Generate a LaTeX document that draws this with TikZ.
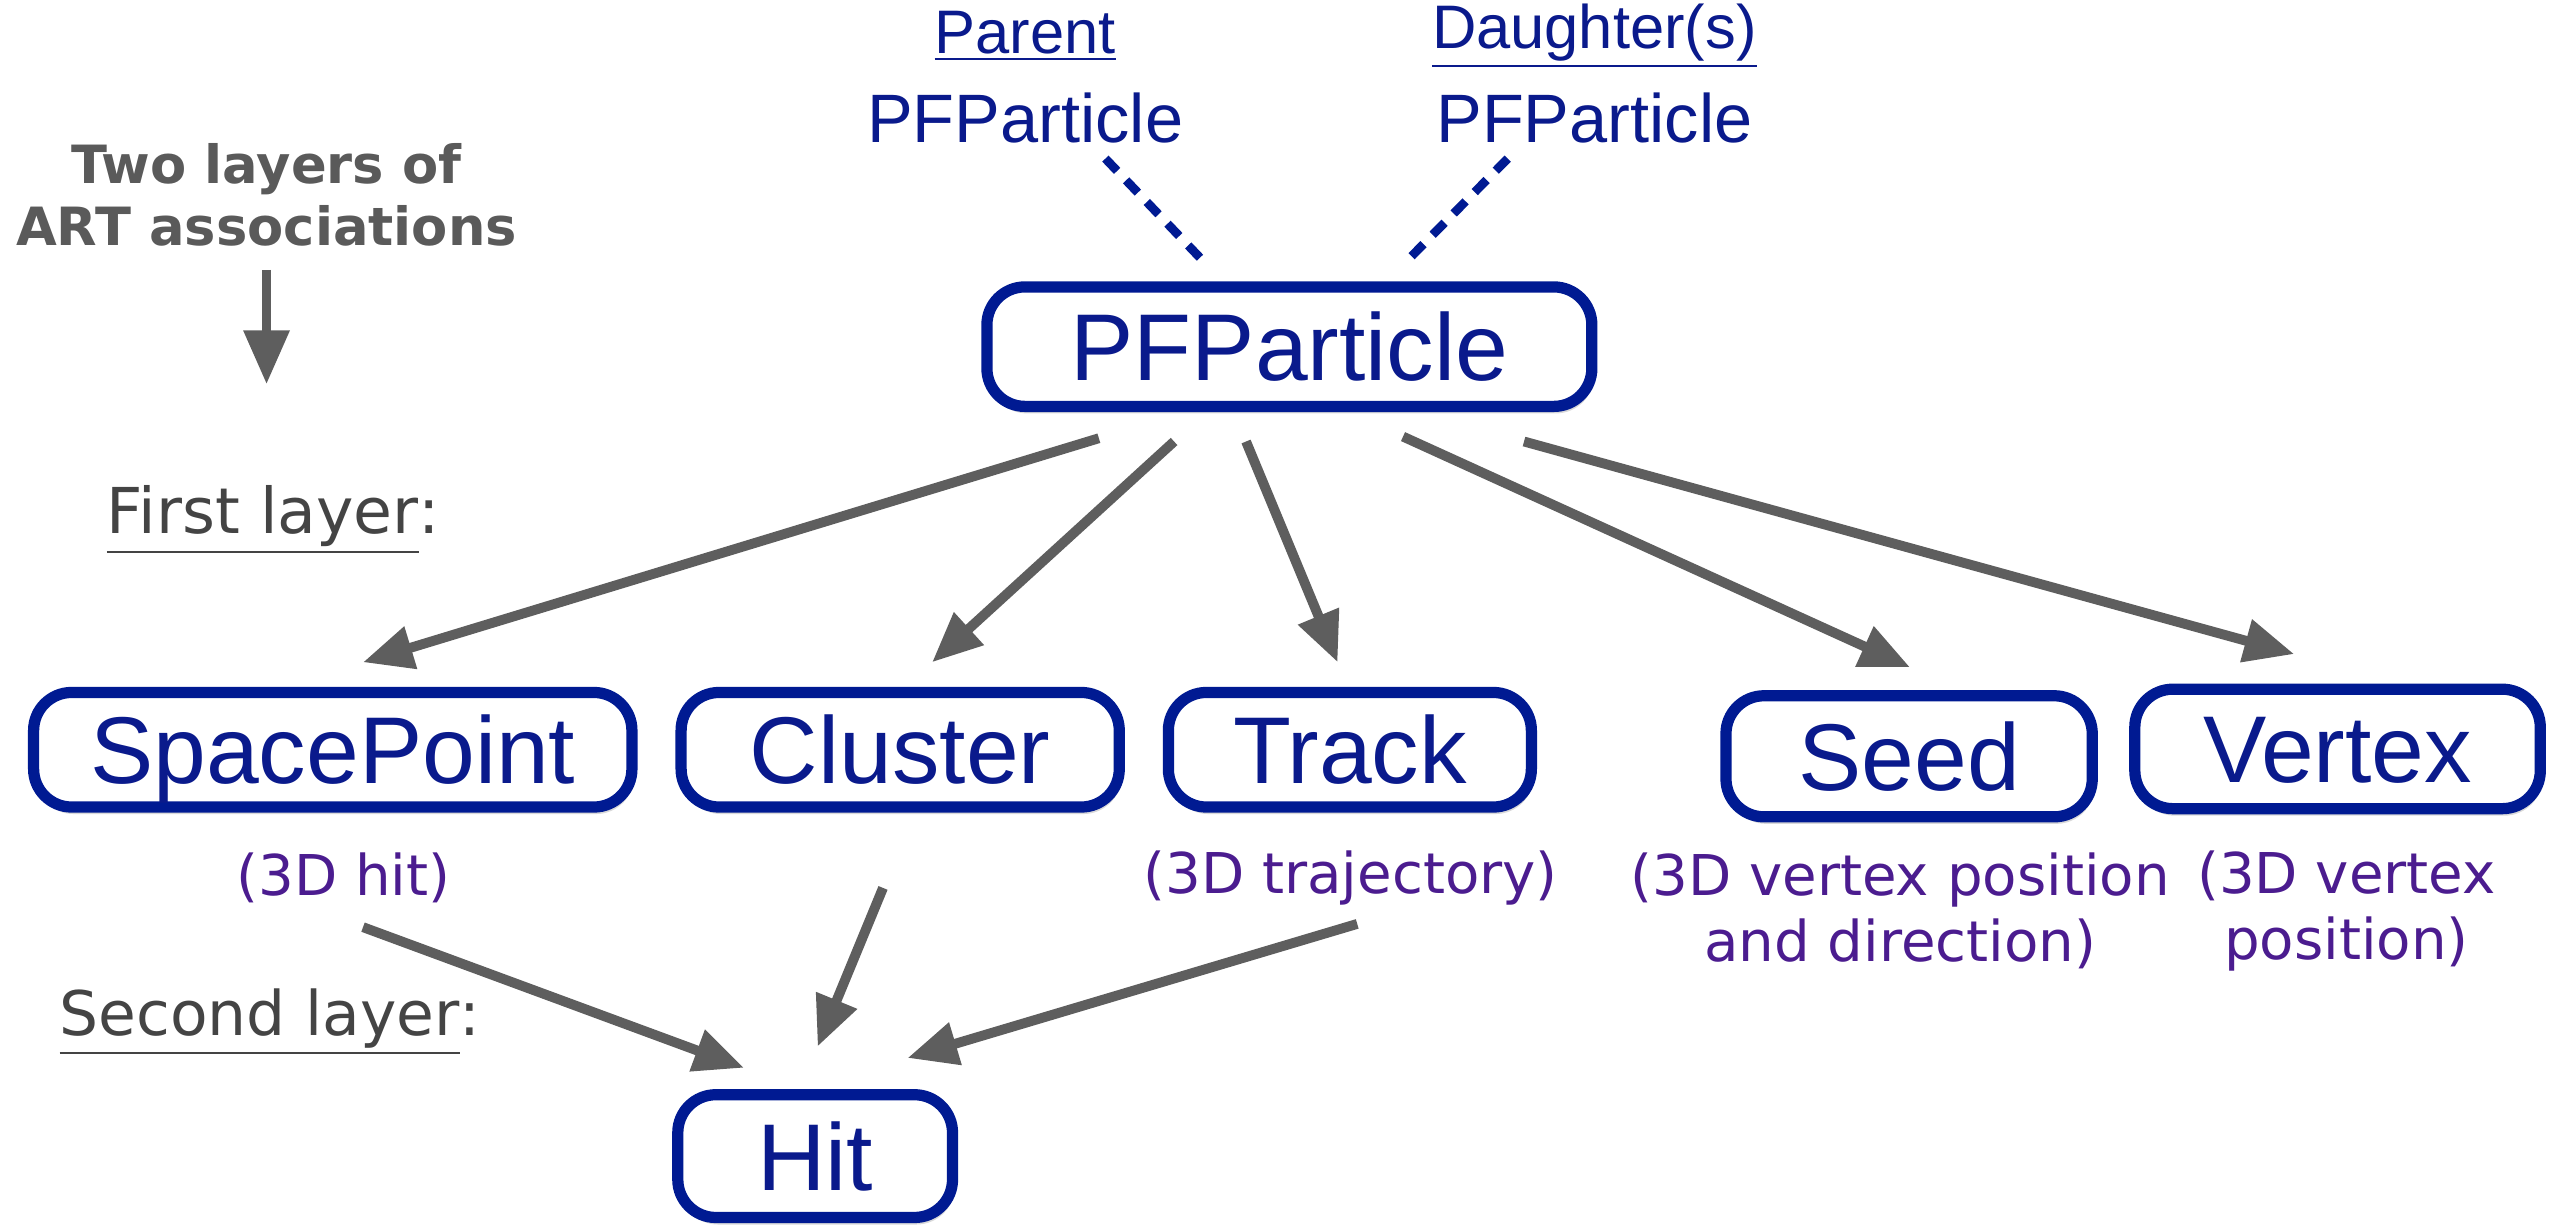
\documentclass[tikz,border=0pt]{standalone}
\usepackage{fontspec}
\setmainfont{Liberation Sans}
\newfontfamily\vfont{DejaVu Sans}
\usetikzlibrary{arrows.meta,shadows}
\definecolor{bblue}{RGB}{0,26,146}
\definecolor{tblue}{RGB}{10,26,140}
\definecolor{purp}{RGB}{75,28,143}
\definecolor{agray}{RGB}{94,94,94}
\definecolor{lgray}{RGB}{68,68,68}
\definecolor{hgray}{RGB}{90,90,90}
\begin{document}
\begin{tikzpicture}[x=0.01635cm,y=-0.01635cm,
  box/.style={draw=bblue, line width=3.2pt, rounded corners=0.38cm, fill=white,
    text=tblue, inner sep=0pt, font=\fontsize{27}{30}\selectfont,
    text height=19.3pt, text depth=0pt,
    drop shadow={opacity=0.3,shadow xshift=0.6pt,shadow yshift=-2pt}},
  arr/.style={draw=agray, line width=2.8pt, -{Triangle[length=0.5cm,width=0.42cm]}},
  dsh/.style={draw=bblue, line width=2.5pt, dash pattern=on 0.17cm off 0.13cm},
  sub/.style={text=purp, font=\vfont\fontsize{16}{18.8}\selectfont, align=center, inner sep=0pt},
  toplab/.style={text=tblue, inner sep=0pt},
  layer/.style={text=lgray, inner sep=0pt, anchor=west}
]
\useasboundingbox (0,0) rectangle (1568,750);

% left explanation
\node[text=hgray, font=\vfont\bfseries\fontsize{15}{17.6}\selectfont, align=center, inner sep=0pt] (tl) at (163,119) {Two layers of\\ART associations};
\coordinate (tlend) at (163,235);
\draw[draw=agray, line width=2.8pt, -{Triangle[length=0.54cm,width=0.44cm]}] ([shift={(0,46)}]tl.center) -- (tlend);

\node[layer, font=\vfont\fontsize{18}{21}\selectfont] (l1) at (65,318) {\underline{First layer}:};
\node[layer, font=\vfont\fontsize{17.5}{21}\selectfont] (l2) at (36,625) {\underline{Second layer}:};

% top labels
\node[toplab, font=\fontsize{17.5}{20}\selectfont] (parlab) at (627,22) {\underline{Parent}};
\node[toplab, font=\fontsize{19.5}{22}\selectfont] (parpf) at (627,72) {PFParticle};
\node[toplab, font=\fontsize{17.5}{20}\selectfont] (daulab) at (975,22) {\underline{Daughter(s)}};
\node[toplab, font=\fontsize{19.5}{22}\selectfont] (daupf) at (975,72) {PFParticle};

% boxes
\node[box, minimum width=6.051cm, minimum height=1.195cm] (pf) at (788.5,212) {PFParticle};
\node[box, minimum width=5.985cm, minimum height=1.146cm] (sp) at (203.5,458.5) {SpacePoint};
\node[box, minimum width=4.383cm, minimum height=1.146cm] (cl) at (550.5,458.5) {Cluster};
\node[box, minimum width=3.631cm, minimum height=1.146cm] (tr) at (825.5,458.5) {Track};
\node[box, minimum width=3.664cm, minimum height=1.211cm] (sd) at (1167.5,462.5) {Seed};
\node[box, minimum width=4.056cm, minimum height=1.195cm] (vx) at (1429.5,458) {Vertex};
\node[box, minimum width=2.748cm, minimum height=1.228cm] (ht) at (498.5,707) {Hit};

% sub labels
\node[sub] (sph) at (210,537) {(3D hit)};
\node[sub] (trh) at (826,537) {(3D trajectory)};
\node[sub] (sdh) at (1162,557) {(3D vertex position\\and direction)};
\node[sub] (vxh) at (1435,557) {(3D vertex\\position)};

% dashed links
\draw[dsh] ([shift={(49,25)}]parpf.center) -- ([shift={(-50.5,-50)}]pf.center);
\draw[dsh] ([shift={(-53,25)}]daupf.center) -- ([shift={(69.5,-50)}]pf.center);

% first layer arrows
\draw[arr] ([shift={(-116.5,56)}]pf.center) -- ([shift={(18.5,-53.5)}]sp.center);
\draw[arr] ([shift={(-70.5,58)}]pf.center) -- ([shift={(19.5,-53.5)}]cl.center);
\draw[arr] ([shift={(-26.5,58)}]pf.center) -- ([shift={(-7.5,-53.5)}]tr.center);
\draw[arr] ([shift={(69.5,55)}]pf.center) -- ([shift={(0.5,-54.5)}]sd.center);
\draw[arr] ([shift={(143.5,58)}]pf.center) -- ([shift={(-26.5,-58)}]vx.center);

% second layer arrows
\draw[arr] ([shift={(12,30)}]sph.center) -- ([shift={(-43.5,-54)}]ht.center);
\draw[arr] ([shift={(-10.5,84.5)}]cl.center) -- ([shift={(1.5,-67)}]ht.center);
\draw[arr] ([shift={(4,28)}]trh.center) -- ([shift={(56.5,-60)}]ht.center);
\end{tikzpicture}
\end{document}
